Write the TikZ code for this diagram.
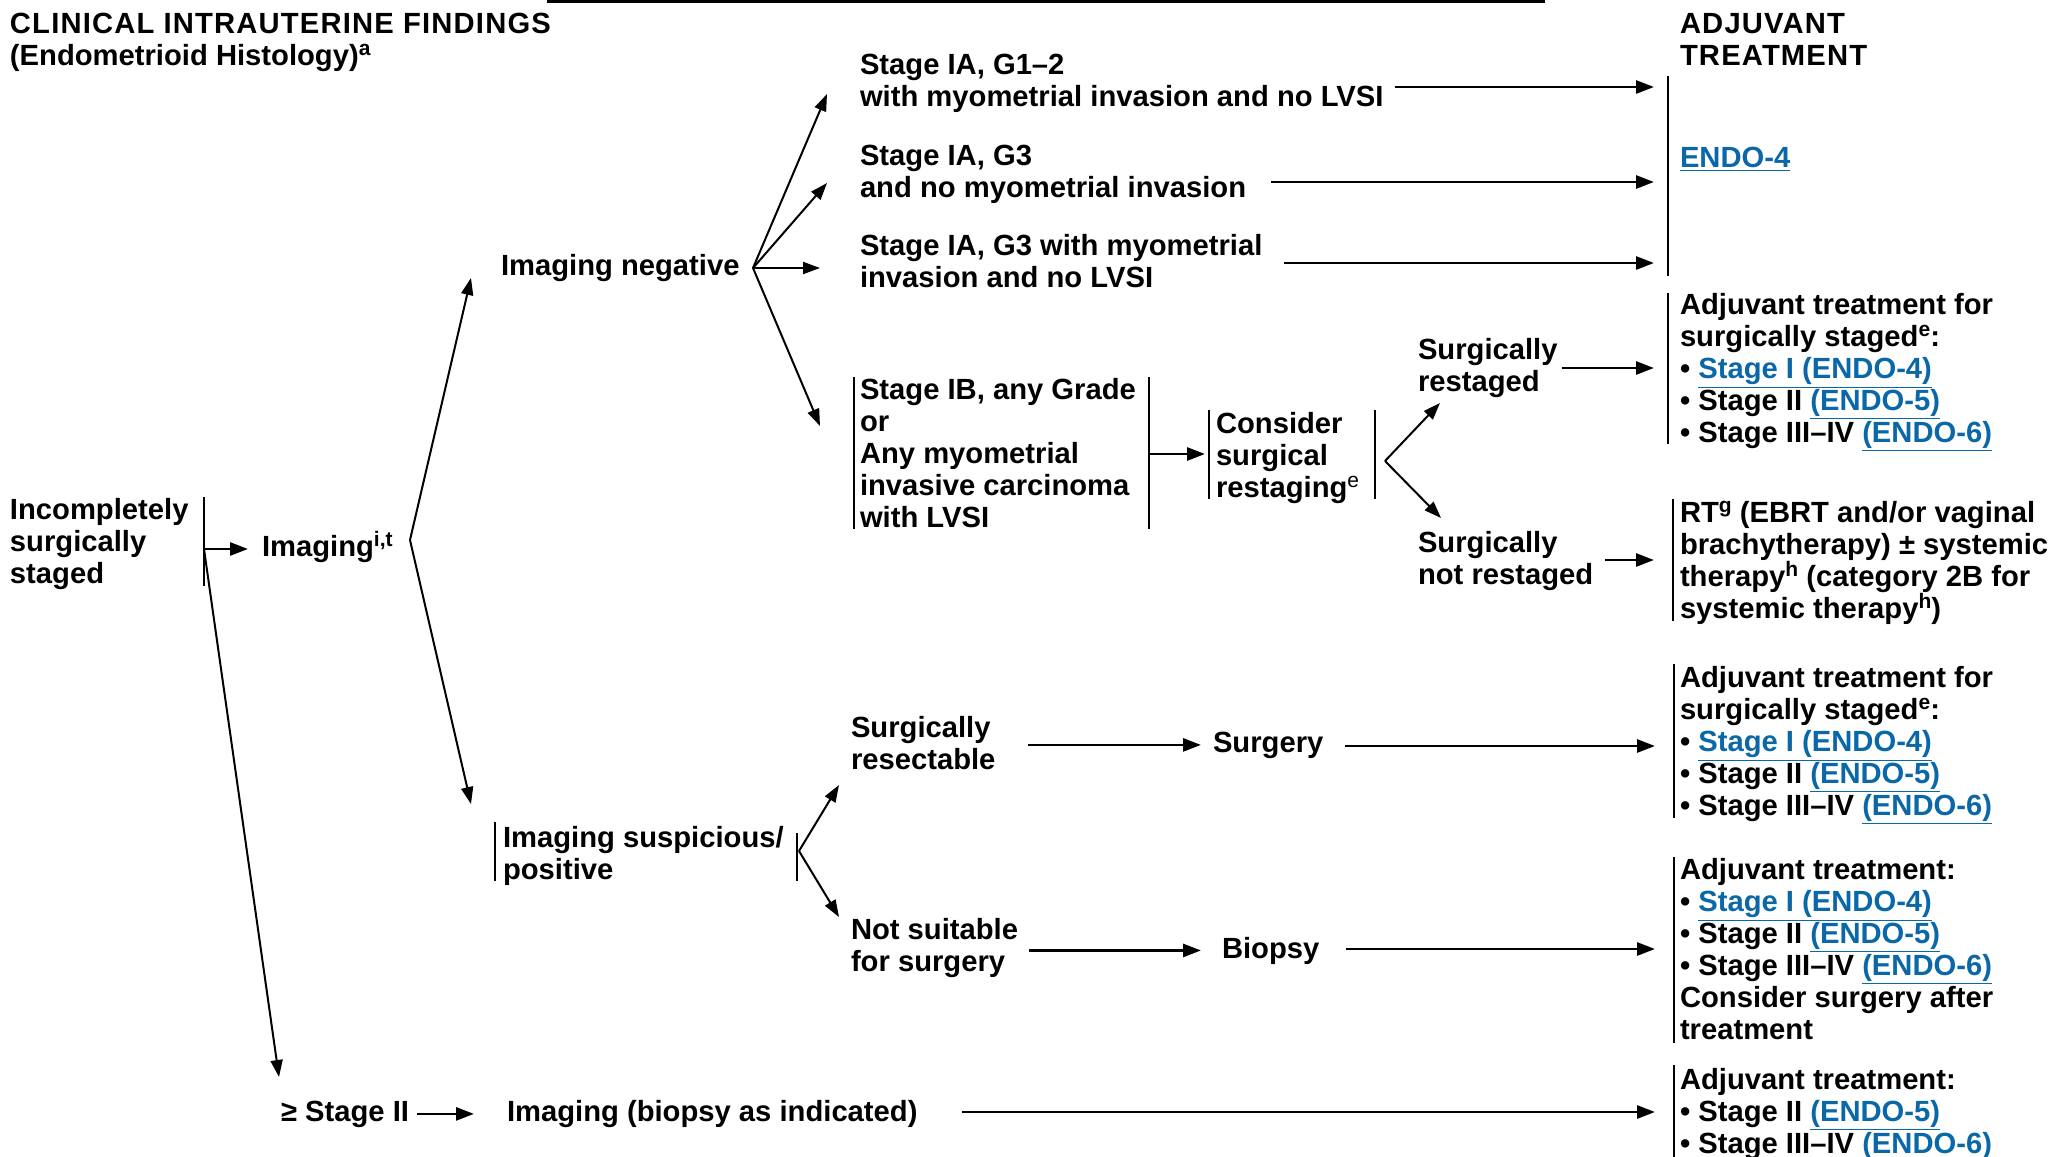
\documentclass[tikz,border=0pt]{standalone}
\usepackage{fontspec}
\setmainfont{Liberation Sans}
\usetikzlibrary{arrows.meta}
\definecolor{linkblue}{HTML}{0B68A8}
\newcommand{\fnt}{\fontsize{14.6}{16}\selectfont\bfseries\lineskiplimit=-20pt\relax}
\newcommand{\tstrut}{\rule{0pt}{14pt}}
\newcommand{\lnk}[1]{\textcolor{linkblue}{\underline{#1}}}
\newcommand{\sps}[1]{\raisebox{5pt}{\fontsize{10.5}{11}\selectfont #1}}

\begin{document}
\begin{tikzpicture}[x=0.5pt,y=-0.5pt,
    txt/.style={anchor=north west,inner sep=0pt,outer sep=0pt,align=left,font=\fnt},
    lbl/.style={anchor=base west,inner sep=0pt,outer sep=0pt,font=\fnt},
    arr/.style={-{Triangle[length=9pt,width=6.5pt]},line width=1.4pt},
    brn/.style={-{Triangle[length=8.5pt,width=6pt]},line width=1pt},
    vbar/.style={line width=1pt}]
   \useasboundingbox (0,0) rectangle (2053,1157);
   \fill[white] (0,0) rectangle (2053,1157);
   \draw[line width=1.4pt] (547,1.4) -- (1545,1.4);

   % headings
   \node[txt] (findings) at (10,5) {\tstrut{\addfontfeatures{LetterSpace=4}CLINICAL INTRAUTERINE FINDINGS}\\(Endometrioid Histology)\sps{a}};
   \node[txt] (adjhead) at (1680,5) {\tstrut{\addfontfeatures{LetterSpace=4}ADJUVANT}\\{\addfontfeatures{LetterSpace=4}TREATMENT}};

   % findings
   \node[txt] (incomp) at (10,491) {\tstrut Incompletely\\surgically\\staged};
   \node[lbl] (imaging) at (262,556) {Imaging\sps{i,t}};
   \node[lbl] (imgneg) at (501,275) {Imaging negative};
   \node[txt] (stA) at (860,46) {\tstrut Stage IA, G1–2\\with myometrial invasion and no LVSI};
   \node[txt] (stB) at (860,137) {\tstrut Stage IA, G3\\and no myometrial invasion};
   \node[txt] (stC) at (860,227) {\tstrut Stage IA, G3 with myometrial\\invasion and no LVSI};
   \node[txt] (stD) at (860,371) {\tstrut Stage IB, any Grade\\or\\Any myometrial\\invasive carcinoma\\with LVSI};
   \node[txt] (consider) at (1216,405) {\tstrut Consider\\surgical\\restaging\sps{\mdseries e}};
   \node[txt] (surgre) at (1418,331) {\tstrut Surgically\\restaged};
   \node[txt] (surgnot) at (1418,524) {\tstrut Surgically\\not restaged};
   \node[txt] (imgsus) at (503,819) {\tstrut Imaging suspicious/\\positive};
   \node[txt] (resect) at (851,709) {\tstrut Surgically\\resectable};
   \node[txt] (notsuit) at (851,911) {\tstrut Not suitable\\for surgery};
   \node[lbl] (surgery) at (1213,752) {Surgery};
   \node[lbl] (biopsy) at (1222,958) {Biopsy};
   \node[lbl] (stage2) at (281,1121) {≥ Stage II};
   \node[lbl] (imgbx) at (507,1121) {Imaging (biopsy as indicated)};

   % adjuvant treatment
   \node[lbl] (endo4) at (1680,167) {\lnk{ENDO-4}};
   \node[txt] (adjA) at (1680,286) {\tstrut Adjuvant treatment for\\surgically staged\sps{e}:\\• \lnk{Stage I (ENDO-4)}\\• Stage II \lnk{(ENDO-5)}\\• Stage III–IV \lnk{(ENDO-6)}};
   \node[txt] (rt) at (1680,494) {\tstrut RT\sps{g} (EBRT and/or vaginal\\brachytherapy) ± systemic\\therapy\sps{h} (category 2B for\\systemic therapy\sps{h})};
   \node[txt] (adjB) at (1680,659) {\tstrut Adjuvant treatment for\\surgically staged\sps{e}:\\• \lnk{Stage I (ENDO-4)}\\• Stage II \lnk{(ENDO-5)}\\• Stage III–IV \lnk{(ENDO-6)}};
   \node[txt] (adjC) at (1680,851) {\tstrut Adjuvant treatment:\\• \lnk{Stage I (ENDO-4)}\\• Stage II \lnk{(ENDO-5)}\\• Stage III–IV \lnk{(ENDO-6)}\\Consider surgery after\\treatment};
   \node[txt] (adjD) at (1680,1061) {\tstrut Adjuvant treatment:\\• Stage II \lnk{(ENDO-5)}\\• Stage III–IV \lnk{(ENDO-6)}};

   % bars
   \draw[vbar] (204,497) -- (204,586);
   \draw[vbar] (854,377) -- (854,529);
   \draw[vbar] (1149,377) -- (1149,529);
   \draw[vbar] (1209,410) -- (1209,499);
   \draw[vbar] (1375,410) -- (1375,499);
   \draw[vbar] (495,822) -- (495,881);
   \draw[vbar] (797,833) -- (797,881);
   \draw[vbar] (1668,76) -- (1668,276);
   \draw[vbar] (1668,293) -- (1668,444);
   \draw[vbar] (1673,499) -- (1673,621);
   \draw[vbar] (1674,664) -- (1674,818);
   \draw[vbar] (1674,857) -- (1674,1043);
   \draw[vbar] (1674,1065) -- (1674,1160);

   % branch points and arrow ends
   \coordinate (incbar) at (204,549);
   \coordinate (toge2) at (279,1077);
   \coordinate (fkimg) at (410,540);
   \coordinate (toneg) at (471,278);
   \coordinate (tosus) at (471,804);
   \coordinate (fkneg) at (753,268);
   \coordinate (toA) at (827,94);
   \coordinate (toB) at (827,183);
   \coordinate (toC) at (820,268);
   \coordinate (toD) at (820,426);
   \coordinate (outD) at (1149,454);
   \coordinate (incons) at (1205,454);
   \coordinate (fkcons) at (1385,461);
   \coordinate (tore) at (1440,403);
   \coordinate (tonotre) at (1441,518);
   \coordinate (fksus) at (799,851);
   \coordinate (toresect) at (839,785);
   \coordinate (tonotsuit) at (839,917);
   \coordinate (inA) at (1654,87);
   \coordinate (inB) at (1654,182);
   \coordinate (inC) at (1654,263);
   \coordinate (inre) at (1654,368);
   \coordinate (innotre) at (1654,560);
   \coordinate (insurg) at (1655,746);
   \coordinate (inbx) at (1655,949);
   \coordinate (inimg) at (1655,1112);

   % connectors
   \draw[arr,shorten >=7pt] (incbar) -- (incbar -| imaging.west);
   \draw[brn] (incbar) -- (toge2);
   \draw[brn] (fkimg) -- (toneg);
   \draw[brn] (fkimg) -- (tosus);
   \draw[brn] (fkneg) -- (toA);
   \draw[brn] (fkneg) -- (toB);
   \draw[brn] (fkneg) -- (toC);
   \draw[brn] (fkneg) -- (toD);
   \draw[arr,shorten <=5.5pt] (stA.east |- inA) -- (inA);
   \draw[arr,shorten <=12.5pt] (stB.east |- inB) -- (inB);
   \draw[arr,shorten <=11pt] (stC.east |- inC) -- (inC);
   \draw[arr] (outD) -- (incons);
   \draw[brn] (fkcons) -- (tore);
   \draw[brn] (fkcons) -- (tonotre);
   \draw[arr,shorten <=2pt] (surgre.east |- inre) -- (inre);
   \draw[arr,shorten <=6pt] (surgnot.east |- innotre) -- (innotre);
   \draw[brn] (fksus) -- (toresect);
   \draw[brn] (fksus) -- (tonotsuit);
   \draw[arr,shorten <=16.5pt,shorten >=6pt] (resect.east |- surgery.west) -- (surgery.west);
   \draw[arr,shorten <=11pt] (surgery.east |- insurg) -- (insurg);
   \draw[arr,shorten <=5.5pt,shorten >=10.5pt] (notsuit.east |- biopsy.west) -- (biopsy.west);
   \draw[arr,shorten <=13.5pt] (biopsy.east |- inbx) -- (inbx);
   \draw[arr,shorten <=4pt,shorten >=16.5pt] (stage2.east) -- (stage2.east -| imgbx.west);
   \draw[arr,shorten <=22.5pt] (imgbx.east |- inimg) -- (inimg);
\end{tikzpicture}
\end{document}
